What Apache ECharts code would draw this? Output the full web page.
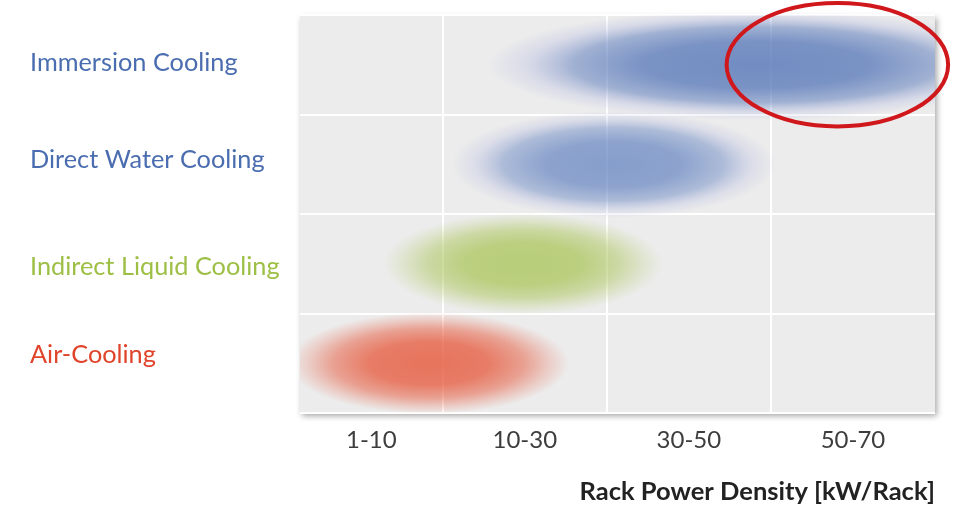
<!DOCTYPE html>
<html>
<head>
<meta charset="utf-8">
<style>
  html, body { margin: 0; padding: 0; background: #ffffff; }
  #chart { width: 953px; height: 509px; }
</style>
<script src="https://cdn.jsdelivr.net/npm/echarts@6/dist/echarts.min.js"></script>
</head>
<body>
<div id="chart"></div>
<script>
// ---- data ----
var categories = ['Air-Cooling', 'Indirect Liquid Cooling', 'Direct Water Cooling', 'Immersion Cooling'];
var categoryColors = ['#e0442a', '#9dbf45', '#4a6db0', '#4a6db0'];
var labelShift = [-8, 3, -4, -2];          // small vertical nudges of the row labels (px)
var xTicks = ['1-10', '10-30', '30-50', '50-70'];
var bandEdges = [1, 2, 3];                  // boundaries between power-density bands
var bandCenters = [0.565, 1.5, 2.5, 3.5];   // where the band labels sit
// horizontal extent of each technology, in power-density band units
var rangeStart = [0.06, 0.64, 1.05, 1.27];
var rangeEnd   = [1.77, 2.34, 3.03, 4.55];
// vertical spread of each blob, in row units
var rowSpread  = [1.02, 1.02, 1.08, 1.12];
var blobColors = [[230, 92, 64], [172, 198, 94], [98, 130, 192], [90, 122, 186]];
var blobAlpha  = [0.84, 0.82, 0.74, 0.84];
// highlighted region (50-70 immersion)
var highlightX = [2.73, 4.08];
var highlightRow = 3;
var highlightSpread = 1.24;

var blobData = categories.map(function (c, i) {
  return [rangeStart[i], rangeEnd[i], i + 0.5, rowSpread[i], i];
});

function rgba(c, a) { return 'rgba(' + c[0] + ',' + c[1] + ',' + c[2] + ',' + a + ')'; }

var rich = {};
categories.forEach(function (c, i) {
  var s = labelShift[i];
  rich['r' + i] = {
    color: categoryColors[i], fontFamily: 'Lato', fontSize: 25.3,
    padding: s < 0 ? [0, 0, -2 * s, 0] : [2 * s, 0, 0, 0]
  };
});

var chart = echarts.init(document.getElementById('chart'));
chart.setOption({
  animation: false,
  backgroundColor: '#ffffff',
  grid: {
    left: 300, right: 18, top: 15, bottom: 96,
    show: true,
    backgroundColor: '#ececec',
    borderWidth: 0,
    shadowColor: 'rgba(0,0,0,0.35)',
    shadowBlur: 6,
    shadowOffsetX: 2,
    shadowOffsetY: 3
  },
  xAxis: {
    type: 'value', min: 0.13, max: 4,
    axisLine: { show: false },
    axisTick: { show: false, customValues: bandEdges },
    axisLabel: {
      customValues: bandCenters,
      formatter: function (v) { return xTicks[Math.floor(v)]; },
      color: '#3d3d3d', fontFamily: 'Lato', fontSize: 24, margin: 15
    },
    splitLine: { show: true, lineStyle: { color: '#ffffff', width: 2 } },
    name: 'Rack Power Density [kW/Rack]',
    nameLocation: 'end',
    nameGap: 0,
    nameTextStyle: {
      color: '#222', fontFamily: 'Lato', fontSize: 25.5, fontWeight: 'bold',
      align: 'right', verticalAlign: 'top', padding: [66, 0, 0, 0]
    }
  },
  yAxis: [{
    type: 'category',
    data: categories,
    boundaryGap: true,
    axisLine: { show: false },
    axisTick: { show: false },
    axisLabel: {
      align: 'left', margin: 270, verticalAlign: 'middle',
      formatter: function (v) { var i = categories.indexOf(v); return '{r' + i + '|' + v + '}'; },
      rich: rich
    },
    splitLine: { show: true, lineStyle: { color: '#ffffff', width: 2 } }
  }, {
    type: 'value', min: 0, max: 4, show: false
  }],
  series: [{
    type: 'custom',
    xAxisIndex: 0, yAxisIndex: 1,
    clip: true,
    data: blobData,
    renderItem: function (params, api) {
      var x0 = api.coord([api.value(0), api.value(2)]);
      var x1 = api.coord([api.value(1), api.value(2)]);
      var top = api.coord([1, api.value(2) + api.value(3) / 2]);
      var bot = api.coord([1, api.value(2) - api.value(3) / 2]);
      var idx = api.value(4);
      var rx = (x1[0] - x0[0]) / 2;
      var ry = (bot[1] - top[1]) / 2;
      var c = blobColors[idx], a = blobAlpha[idx];
      var edge = idx >= 2 ? [150, 160, 218] : c;
      return {
        type: 'circle',
        x: (x0[0] + x1[0]) / 2,
        y: x0[1],
        scaleX: rx / ry,
        shape: { cx: 0, cy: 0, r: ry },
        style: {
          fill: {
            type: 'radial', x: 0.5, y: 0.5, r: 0.5,
            colorStops: [
              { offset: 0, color: rgba(c, a) },
              { offset: 0.42, color: rgba(c, a * 0.93) },
              { offset: 0.68, color: rgba(c, a * 0.62) },
              { offset: 0.86, color: rgba(edge, a * 0.25) },
              { offset: 1, color: rgba(edge, 0) }
            ]
          }
        }
      };
    }
  }, {
    type: 'custom',
    xAxisIndex: 0, yAxisIndex: 1,
    clip: false,
    z: 5,
    data: [[highlightX[0], highlightX[1], highlightRow + 0.5, highlightSpread]],
    renderItem: function (params, api) {
      var p0 = api.coord([api.value(0), api.value(2)]);
      var p1 = api.coord([api.value(1), api.value(2)]);
      var t = api.coord([1, api.value(2) + api.value(3) / 2]);
      var b = api.coord([1, api.value(2) - api.value(3) / 2]);
      return {
        type: 'ellipse',
        shape: { cx: (p0[0] + p1[0]) / 2, cy: p0[1], rx: (p1[0] - p0[0]) / 2, ry: (b[1] - t[1]) / 2 },
        style: { fill: 'none', stroke: '#cf171c', lineWidth: 4 }
      };
    }
  }]
});
</script>
</body>
</html>
